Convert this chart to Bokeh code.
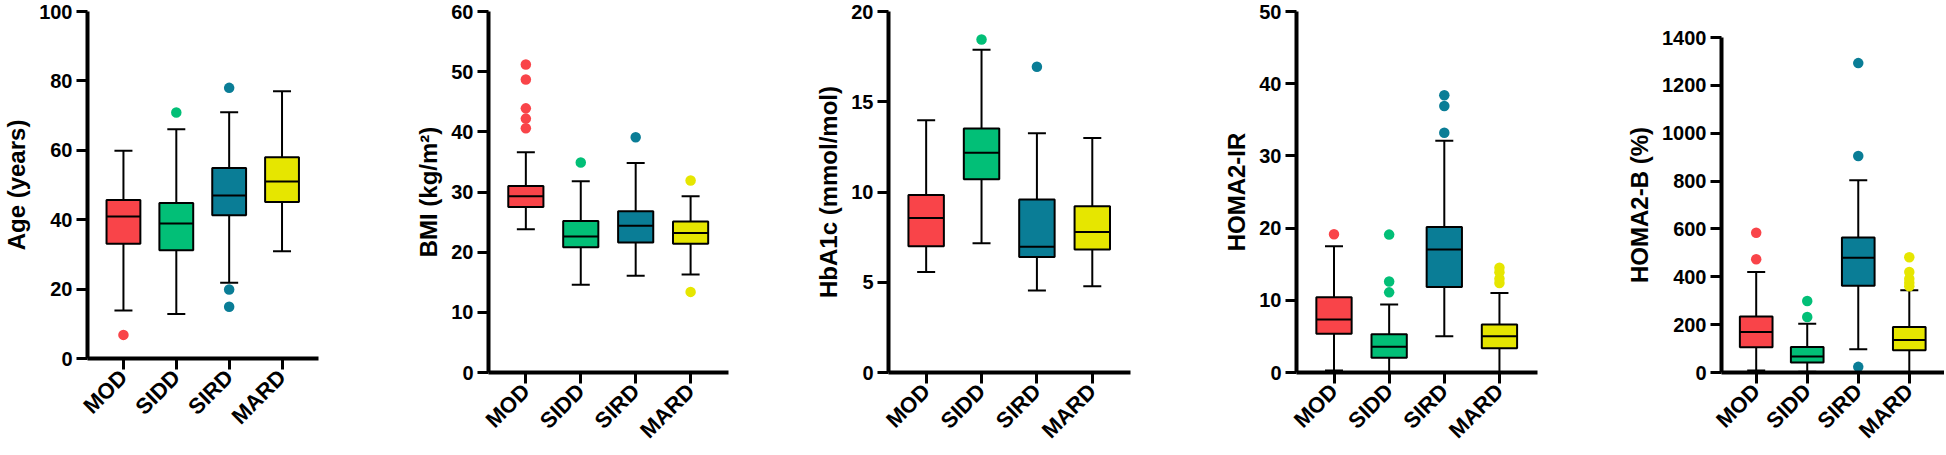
import math
from bokeh.plotting import figure
from bokeh.layouts import row
from bokeh.models import Range1d, FixedTicker, ColumnDataSource
from bokeh.embed import file_html
from bokeh.resources import INLINE

groups = ["MOD", "SIDD", "SIRD", "MARD"]
colors = ["#F94449", "#02BF77", "#0A7D96", "#E6E600"]

# Age (years)
age_low = [13.8, 12.8, 21.8, 30.9]
age_q1 = [33.1, 31.2, 41.3, 45.1]
age_median = [40.9, 38.9, 47.0, 51.0]
age_q3 = [45.7, 44.8, 54.9, 58.0]
age_high = [59.9, 66.1, 71.0, 77.0]
age_outliers = [[6.8], [70.9], [78.0, 19.9, 14.9], []]
age_ticks = [0, 20, 40, 60, 80, 100]

# BMI (kg/m2)
bmi_low = [23.8, 14.6, 16.1, 16.3]
bmi_q1 = [27.5, 20.8, 21.6, 21.4]
bmi_median = [29.3, 22.6, 24.4, 23.2]
bmi_q3 = [31.0, 25.2, 26.8, 25.1]
bmi_high = [36.6, 31.8, 34.8, 29.3]
bmi_outliers = [[51.2, 48.7, 43.9, 42.2, 40.6], [34.9], [39.1], [31.9, 13.4]]
bmi_ticks = [0, 10, 20, 30, 40, 50, 60]

# HbA1c (mmol/mol)
hba_low = [5.57, 7.16, 4.54, 4.78]
hba_q1 = [6.99, 10.70, 6.40, 6.81]
hba_median = [8.56, 12.18, 6.96, 7.79]
hba_q3 = [9.83, 13.52, 9.58, 9.21]
hba_high = [13.97, 17.88, 13.25, 12.99]
hba_outliers = [[], [18.45], [16.94], []]
hba_ticks = [0, 5, 10, 15, 20]

# HOMA2-IR
ir_low = [0.28, 0.05, 5.03, 0.05]
ir_q1 = [5.35, 2.03, 11.85, 3.37]
ir_median = [7.33, 3.55, 17.02, 5.03]
ir_q3 = [10.42, 5.30, 20.16, 6.64]
ir_high = [17.48, 9.41, 32.1, 11.02]
ir_outliers = [[19.14], [19.1, 12.6, 11.1], [38.4, 36.9, 33.2], [14.5, 13.9, 13.0, 12.4]]
ir_ticks = [0, 10, 20, 30, 40, 50]

# HOMA2-B (%)
b_low = [8.3, 3.0, 97.3, 2.0]
b_q1 = [105.7, 41.7, 362.8, 93.1]
b_median = [169.6, 66.7, 479.6, 136.2]
b_q3 = [233.6, 107.0, 564.0, 190.5]
b_high = [419.9, 204.0, 803.6, 343.4]
b_outliers = [[584, 473], [299, 232], [1293, 905, 23.6], [482, 420, 392, 375, 360]]
b_ticks = [0, 200, 400, 600, 800, 1000, 1200, 1400]

# (width, height, min_border_left, right, top, bottom)
panels = [
    dict(label="Age (years)", low=age_low, q1=age_q1, med=age_median, q3=age_q3, high=age_high,
         out=age_outliers, ticks=age_ticks, lay=(390, 475, 85, 72, 31, 97)),
    dict(label="BMI (kg/m\u00b2)", low=bmi_low, q1=bmi_q1, med=bmi_median, q3=bmi_q3, high=bmi_high,
         out=bmi_outliers, ticks=bmi_ticks, lay=(390, 475, 98, 52, 31, 83)),
    dict(label="HbA1c (mmol/mol)", low=hba_low, q1=hba_q1, med=hba_median, q3=hba_q3, high=hba_high,
         out=hba_outliers, ticks=hba_ticks, lay=(390, 475, 108, 40, 31, 83)),
    dict(label="HOMA2-IR", low=ir_low, q1=ir_q1, med=ir_median, q3=ir_q3, high=ir_high,
         out=ir_outliers, ticks=ir_ticks, lay=(376, 475, 126, 9, 31, 83)),
    dict(label="HOMA2-B (%)", low=b_low, q1=b_q1, med=b_median, q3=b_q3, high=b_high,
         out=b_outliers, ticks=b_ticks, lay=(398, 475, 175, 0, 57, 83)),
]

FONT = "Liberation Sans"
xpos = [i + 1 for i in range(len(groups))]
figs = []
for pn in panels:
    w, h, bl, br, bt, bb = pn["lay"]
    p = figure(x_range=Range1d(0.32, 4.69),
               y_range=Range1d(pn["ticks"][0], pn["ticks"][-1]),
               width=w, height=h, title=None,
               min_border_left=bl, min_border_right=br, min_border_top=bt, min_border_bottom=bb,
               output_backend="svg", toolbar_location=None)
    try:
        p.frame_align = False
    except Exception:
        pass
    p.outline_line_color = None
    p.xgrid.visible = False
    p.ygrid.visible = False

    src = ColumnDataSource(dict(x=xpos, low=pn["low"], q1=pn["q1"], med=pn["med"],
                                q3=pn["q3"], high=pn["high"], c=colors))
    p.segment(x0="x", y0="q3", x1="x", y1="high", source=src, line_color="black", line_width=2)
    p.segment(x0="x", y0="q1", x1="x", y1="low", source=src, line_color="black", line_width=2)
    p.scatter(x="x", y="high", source=src, marker="dash", size=18, line_color="black", line_width=2)
    p.scatter(x="x", y="low", source=src, marker="dash", size=18, line_color="black", line_width=2)
    p.vbar(x="x", top="q3", bottom="q1", width=0.64, source=src, fill_color="c",
           line_color="black", line_width=2)
    p.vbar(x="x", top="med", bottom="med", width=0.64, source=src, fill_alpha=0,
           line_color="black", line_width=2)

    ox, oy, oc = [], [], []
    for xv, col, vals in zip(xpos, colors, pn["out"]):
        for v in vals:
            ox.append(xv); oy.append(v); oc.append(col)
    p.scatter(x=ox, y=oy, size=10.5, fill_color=oc, line_color=None)

    for ax in (p.xaxis[0], p.yaxis[0]):
        ax.axis_line_width = 4
        ax.axis_line_color = "black"
        ax.major_tick_line_width = 3
        ax.major_tick_line_color = "black"
        ax.major_tick_in = 0
        ax.major_tick_out = 11
        ax.minor_tick_line_color = None
        ax.major_label_text_font = FONT
        ax.major_label_text_font_style = "bold"
        ax.major_label_text_color = "black"
    p.xaxis.ticker = FixedTicker(ticks=xpos)
    p.xaxis.major_label_overrides = {xv: g for xv, g in zip(xpos, groups)}
    p.yaxis.ticker = FixedTicker(ticks=pn["ticks"])
    p.yaxis.major_label_text_font_size = "20px"
    p.yaxis.major_label_standoff = 4
    p.yaxis.axis_label = pn["label"]
    p.yaxis.axis_label_text_font = FONT
    p.yaxis.axis_label_text_font_style = "bold"
    p.yaxis.axis_label_text_font_size = "24px"
    p.yaxis.axis_label_text_color = "black"
    p.yaxis.axis_label_standoff = 6
    p.xaxis.major_label_text_font_size = "22px"
    p.xaxis.major_label_orientation = math.pi / 4
    p.xaxis.major_label_standoff = 4
    figs.append(p)

layout = row(*figs, styles={"margin-top": "-20px"})
open("out.html", "w").write(file_html(layout, INLINE))
